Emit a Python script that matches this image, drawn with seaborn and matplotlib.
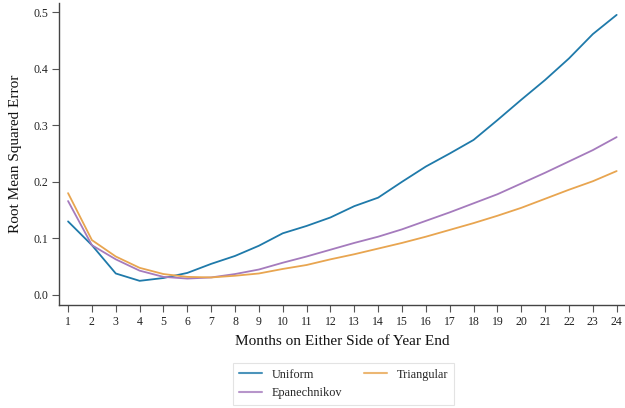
import numpy as np
import pandas as pd
import matplotlib
matplotlib.use("Agg")
import matplotlib.pyplot as plt
import seaborn as sns

months = list(range(1, 25))
uniform = [0.130, 0.088, 0.038, 0.025, 0.030, 0.039, 0.055, 0.069, 0.087, 0.109,
           0.122, 0.137, 0.157, 0.172, 0.200, 0.227, 0.250, 0.274, 0.309, 0.345,
           0.380, 0.418, 0.461, 0.495]
epanechnikov = [0.166, 0.088, 0.063, 0.043, 0.032, 0.029, 0.031, 0.037, 0.045, 0.057,
                0.068, 0.080, 0.092, 0.103, 0.116, 0.131, 0.146, 0.162, 0.178, 0.197,
                0.216, 0.236, 0.256, 0.279]
triangular = [0.180, 0.097, 0.068, 0.048, 0.037, 0.032, 0.031, 0.034, 0.038, 0.046,
              0.053, 0.063, 0.072, 0.082, 0.092, 0.103, 0.115, 0.127, 0.140, 0.154,
              0.170, 0.186, 0.201, 0.219]
series_names = ["Uniform", "Epanechnikov", "Triangular"]
colors = ["#1f7aaa", "#a57bbd", "#e8a550"]

df = pd.concat([
    pd.DataFrame({"Month": months, "RMSE": vals, "Kernel": name})
    for name, vals in zip(series_names, [uniform, epanechnikov, triangular])
])

sns.set_theme(style="ticks")
plt.rcParams["font.family"] = ["Liberation Serif", "DejaVu Serif"]

fig = plt.figure(figsize=(6.25, 4.08), dpi=100)
ax = fig.add_axes([59 / 625, 1 - 305 / 408, 566 / 625, 302 / 408])

sns.lineplot(data=df, x="Month", y="RMSE", hue="Kernel", hue_order=series_names,
             palette=colors, linewidth=1.3, ax=ax, legend=True)

ax.set_xlim(0.62, 24.35)
ax.set_ylim(-0.0177, 0.516)
ax.set_xticks(months)
ax.set_xticklabels([str(m) for m in months])
ax.set_yticks([0.0, 0.1, 0.2, 0.3, 0.4, 0.5])
ax.set_yticklabels(["0.0", "0.1", "0.2", "0.3", "0.4", "0.5"])
ax.tick_params(axis="both", labelsize=8.5, length=5, width=0.8, color="#555555",
               labelcolor="#222222", pad=3)
for s in ["top", "right"]:
    ax.spines[s].set_visible(False)
for s in ["left", "bottom"]:
    ax.spines[s].set_color("#444444")
    ax.spines[s].set_linewidth(1.0)

ax.set_xlabel("Months on Either Side of Year End", fontsize=11, color="#111111", labelpad=5)
ax.set_ylabel("Root Mean Squared Error", fontsize=11, color="#111111", labelpad=8)

handles, labels = ax.get_legend_handles_labels()
ax.get_legend().remove()
leg = fig.legend(handles, labels, ncol=2, loc="upper left",
                 bbox_to_anchor=(232.5 / 625, 1 - 362.5 / 408),
                 frameon=True, fontsize=8.8, handlelength=1.95, handletextpad=0.75,
                 columnspacing=1.75, borderpad=0.5, labelspacing=0.55,
                 fancybox=False, borderaxespad=0)
leg.get_frame().set_edgecolor("#dddddd")
leg.get_frame().set_linewidth(0.8)
for line in leg.get_lines():
    line.set_alpha(0.8)
    line.set_linewidth(1.5)

fig.savefig("out.png", dpi=100)
